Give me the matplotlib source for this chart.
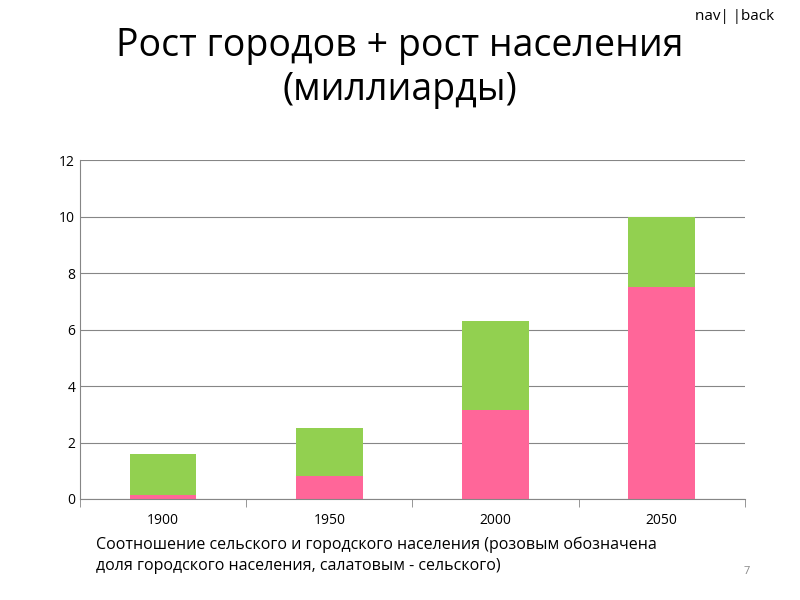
import matplotlib
matplotlib.use("Agg")
import matplotlib.pyplot as plt

years = ["1900", "1950", "2000", "2050"]
urban = [0.15, 0.8, 3.15, 7.5]
rural = [1.45, 1.7, 3.15, 2.5]
yticks = [0, 2, 4, 6, 8, 10, 12]

plt.rcParams['font.family'] = ['Open Sans', 'DejaVu Sans']
fig = plt.figure(figsize=(8, 6), dpi=100)
ax = fig.add_axes([0.1, 1 - 499/600, 0.831, 339/600])
x = list(range(len(years)))
ax.bar(x, urban, width=0.4, color="#FF6699")
ax.bar(x, rural, width=0.4, bottom=urban, color="#92D050")
ax.set_xlim(-0.5, 3.5)
ax.set_ylim(0, 12)
ax.set_yticks(yticks)
ax.yaxis.grid(True, color="#868686", linewidth=0.8)
ax.set_axisbelow(True)
ax.set_xticks(x)
ax.set_xticklabels(years)
ax.set_xticks([-0.5, 0.5, 1.5, 2.5, 3.5], minor=True)
ax.tick_params(axis='x', which='major', length=0, pad=10)
ax.tick_params(axis='x', which='minor', length=6, color="#868686")
ax.tick_params(axis='y', length=0, labelsize=10)
ax.tick_params(axis='x', labelsize=10)
for s in ["top", "right"]:
    ax.spines[s].set_visible(False)
for s in ["left", "bottom"]:
    ax.spines[s].set_color("#868686")

fig.text(0.5, 0.955, "Рост городов + рост населения\n(миллиарды)", ha="center", va="top",
         fontsize=27, linespacing=1.2)
fig.text(0.12, 0.075, "Соотношение сельского и городского населения (розовым обозначена\nдоля городского населения, салатовым - сельского)",
         ha="left", va="center", fontsize=11.5, linespacing=1.4)
fig.text(0.938, 0.048, "7", ha="right", va="center", fontsize=8, color="#888888")
fig.text(0.968, 0.972, "nav| |back", ha="right", va="center", fontsize=11)
fig.savefig("out.png", dpi=100)
